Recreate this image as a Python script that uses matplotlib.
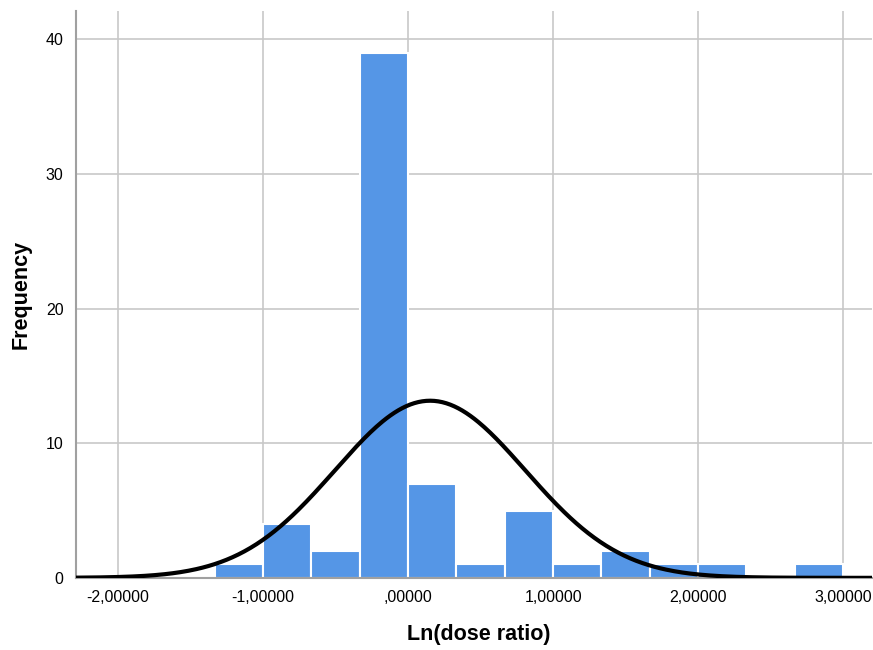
import numpy as np
import matplotlib.pyplot as plt

plt.rcParams['font.family'] = ['Liberation Sans', 'DejaVu Sans']

# histogram bins (width 1/3) and counts
bin_left = [-4/3, -1, -2/3, -1/3, 0, 1/3, 2/3, 1, 4/3, 5/3, 2, 7/3, 8/3]
counts = [1, 4, 2, 39, 7, 1, 5, 1, 2, 1, 1, 0, 1]
bin_width = 1/3

# fitted normal curve parameters
mean = 0.152
std = 0.657
n_total = sum(counts)

xticks = [-2, -1, 0, 1, 2, 3]
xtick_labels = ['-2,00000', '-1,00000', ',00000', '1,00000', '2,00000', '3,00000']
yticks = [0, 10, 20, 30, 40]

fig = plt.figure(figsize=(8.73, 6.5), dpi=100)
ax = fig.add_axes([0.087, 0.111, 0.912, 0.872])

ax.grid(True, color='#c8c8c8', linewidth=1.2, zorder=0)
ax.bar(bin_left, counts, width=bin_width, align='edge', color='#5596e6',
       edgecolor='white', linewidth=1.5, zorder=2)

xs = np.linspace(-2.3, 3.2, 400)
ys = n_total * bin_width / (std * np.sqrt(2 * np.pi)) * np.exp(-0.5 * ((xs - mean) / std) ** 2)
ax.plot(xs, ys, color='black', linewidth=3, zorder=3)

ax.set_xlim(-2.29, 3.2)
ax.set_ylim(0, 42.1)
ax.set_xticks(xticks)
ax.set_xticklabels(xtick_labels)
ax.set_yticks(yticks)
ax.tick_params(length=0, labelsize=11.5, pad=9)

for s in ['top', 'right']:
    ax.spines[s].set_visible(False)
for s in ['left', 'bottom']:
    ax.spines[s].set_color('#a0a0a0')
    ax.spines[s].set_linewidth(1.5)

ax.set_xlabel('Ln(dose ratio)', fontsize=15.5, fontweight='bold')
ax.xaxis.set_label_coords(0.506, -0.082)
ax.set_ylabel('Frequency', fontsize=15.5, fontweight='bold')
ax.yaxis.set_label_coords(-0.056, 0.5)

fig.savefig('out.png', dpi=100)
